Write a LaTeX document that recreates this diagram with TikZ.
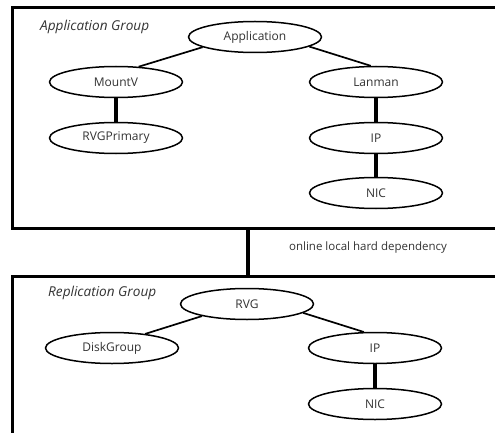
\documentclass[tikz,border=0pt]{standalone}
\usepackage{fontspec}
\setmainfont{Open Sans}
\usetikzlibrary{shapes.geometric}
\definecolor{txt}{HTML}{333333}
\begin{document}
\begin{tikzpicture}[x=1pt,y=-1pt,
  res/.style={ellipse,draw=black,line width=1.5pt,minimum width=133pt,minimum height=31pt,inner sep=0pt,font=\fontsize{12}{14}\selectfont,text=txt},
  grp/.style={rectangle,draw=black,line width=3.2pt,inner sep=0pt,anchor=north west},
  dep/.style={line width=1.7pt},
  hard/.style={line width=3.2pt},
  lbl/.style={font=\fontsize{13.6}{16}\selectfont\itshape,text=txt,anchor=west,inner sep=0pt},
  note/.style={font=\fontsize{11.5}{14}\selectfont,text=txt,inner sep=0pt}]
\path[use as bounding box, clip] (0,0) rectangle (495,433);
\fill[white] (0,0) rectangle (495,433);
% group boxes
\node[grp,minimum width=490pt,minimum height=221pt] (appgrp) at (10.5,6) {};
\node[grp,minimum width=490pt,minimum height=180pt] (repgrp) at (10.5,275) {};
\node[lbl] (applbl) at (40,27) {Application Group};
\node[lbl] (replbl) at (48,293) {Replication Group};
% application group resources
\node[res] (app) at (255,37) {Application};
\node[res] (mv) at (116,82) {MountV};
\node[res] (rvgp) at (116,138) {RVGPrimary};
\node[res] (lan) at (376,82) {Lanman};
\node[res] (ipa) at (376,138) {IP};
\node[res] (nica) at (376,193) {NIC};
% replication group resources
\node[res] (rvg) at (247,304) {RVG};
\node[res] (dg) at (112,348) {DiskGroup};
\node[res] (ipb) at (375,348) {IP};
\node[res] (nicb) at (375,404) {NIC};
% dependencies
\draw[dep] (app.191) -- (mv.34);
\draw[dep] (app.350) -- (lan.108);
\draw[hard] (mv.south) -- (rvgp.north);
\draw[hard] (lan.south) -- (ipa.north);
\draw[hard] (ipa.south) -- (nica.north);
\draw[dep] (rvg.195) -- (dg.23);
\draw[dep] (rvg.351) -- (ipb.125);
\draw[hard] (ipb.south) -- (nicb.north);
% group dependency
\coordinate (cx) at (248,0);
\draw[hard] (appgrp.south -| cx) -- (repgrp.north -| cx);
\node[note] (deplbl) at (368,248) {online local hard dependency};
\end{tikzpicture}
\end{document}
